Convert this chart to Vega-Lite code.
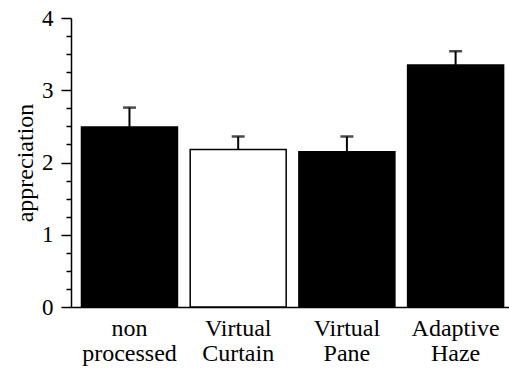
{
  "$schema": "https://vega.github.io/schema/vega-lite/v6.json",
  "width": 438,
  "height": 289,
  "autosize": {"type": "none"},
  "padding": {"left": 71, "top": 18, "right": 0, "bottom": 62},
  "background": "white",
  "config": {
    "view": {"stroke": null},
    "font": "Liberation Serif",
    "axis": {"labelFont": "Liberation Serif", "titleFont": "Liberation Serif"}
  },
  "data": {
    "values": [
      {"cond": "non processed", "value": 2.49, "upper": 2.76},
      {"cond": "Virtual Curtain", "value": 2.18, "upper": 2.36},
      {"cond": "Virtual Pane", "value": 2.15, "upper": 2.36},
      {"cond": "Adaptive Haze", "value": 3.35, "upper": 3.54}
    ]
  },
  "encoding": {
    "x": {
      "field": "cond",
      "type": "nominal",
      "sort": null,
      "scale": {"paddingInner": 0.117, "paddingOuter": 0.073, "align": 0.66},
      "axis": {
        "title": null,
        "ticks": false,
        "labelAngle": 0,
        "labelPadding": 9,
        "labelFont": "Liberation Serif",
        "labelFontSize": 24,
        "labelLineHeight": 25,
        "labelColor": "black",
        "labelExpr": "split(datum.label, ' ')",
        "domainColor": "black",
        "domainWidth": 1.5
      }
    },
    "y": {
      "field": "value",
      "type": "quantitative",
      "scale": {"domain": [0, 4], "nice": false},
      "axis": {
        "title": "appreciation",
        "titleFont": "Liberation Serif",
        "titleFontSize": 24,
        "titleFontWeight": "normal",
        "titleColor": "black",
        "titlePadding": 4,
        "grid": false,
        "values": [0, 0.25, 0.5, 0.75, 1, 1.25, 1.5, 1.75, 2, 2.25, 2.5, 2.75, 3, 3.25, 3.5, 3.75, 4],
        "labelExpr": "datum.value % 1 === 0 ? format(datum.value, 'd') : ''",
        "labelOverlap": false,
        "labelFlush": false,
        "labelFont": "Liberation Serif",
        "labelFontSize": 23,
        "labelColor": "black",
        "labelPadding": 8,
        "ticks": true,
        "tickColor": "black",
        "tickWidth": 1.5,
        "tickSize": {"condition": {"test": "datum.value % 1 === 0", "value": 10}, "value": 5},
        "domainColor": "black",
        "domainWidth": 1.5
      }
    }
  },
  "layer": [
    {
      "mark": {"type": "bar", "stroke": "black", "strokeWidth": 1.5},
      "encoding": {
        "fill": {
          "field": "cond",
          "type": "nominal",
          "scale": {
            "domain": ["non processed", "Virtual Curtain", "Virtual Pane", "Adaptive Haze"],
            "range": ["black", "white", "black", "black"]
          },
          "legend": null
        }
      }
    },
    {
      "mark": {"type": "rule", "color": "black", "strokeWidth": 2},
      "encoding": {
        "y2": {"field": "upper"}
      }
    },
    {
      "mark": {"type": "tick", "orient": "horizontal", "size": 13, "thickness": 2.5, "color": "black"},
      "encoding": {
        "y": {"field": "upper", "type": "quantitative"}
      }
    }
  ]
}
